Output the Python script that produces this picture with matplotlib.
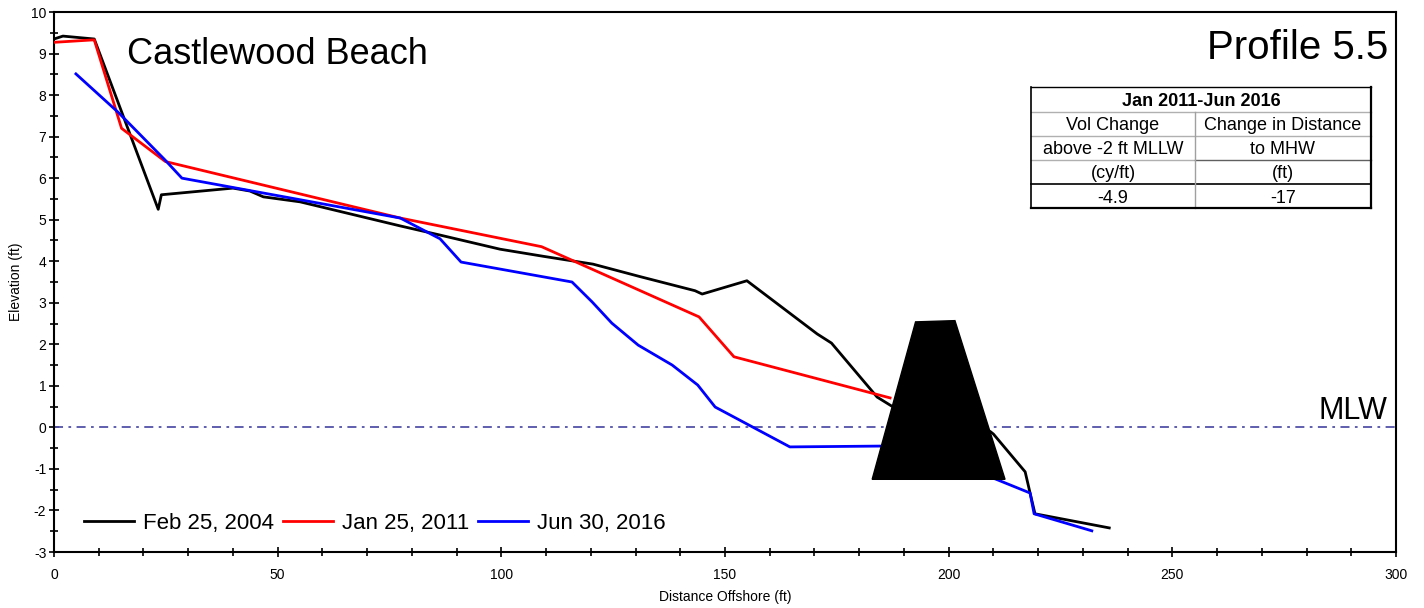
import matplotlib
matplotlib.use("Agg")
import matplotlib.pyplot as plt
from matplotlib.lines import Line2D
from matplotlib.ticker import MultipleLocator

plt.rcParams["font.family"] = ["Liberation Sans", "DejaVu Sans"]
plt.rcParams["axes.unicode_minus"] = False

# survey profiles: distance offshore (ft) vs elevation (ft)
feb2004_x = [0, 2, 9, 23.3, 24, 40, 43.8, 46.8, 55, 77.4, 86.3, 99.7, 109.3, 120.5,
             131, 143.3, 144.9, 154.9, 170.6, 173.8, 184, 187.3, 209.3, 210,
             217.1, 218.2, 219.3, 235.9]
feb2004_y = [9.35, 9.42, 9.35, 5.25, 5.6, 5.76, 5.69, 5.55, 5.43, 4.85, 4.63, 4.29,
             4.12, 3.93, 3.63, 3.29, 3.21, 3.53, 2.25, 2.03, 0.73, 0.51, -0.1, -0.16,
             -1.07, -1.58, -2.08, -2.42]

jan2011_x = [0, 9, 15.1, 24.9, 77.4, 109, 144.2, 152, 186.9]
jan2011_y = [9.27, 9.33, 7.2, 6.4, 5.04, 4.35, 2.66, 1.70, 0.71]

jun2016_x = [4.9, 14.3, 24.8, 28.6, 77.4, 86.3, 91, 115.8, 120.3, 124.7, 130.6,
             138.2, 143.9, 147.8, 164.5, 184.7, 210.4, 218.2, 219.1, 232]
jun2016_y = [8.51, 7.59, 6.44, 6.0, 5.04, 4.54, 3.98, 3.5, 3.02, 2.51, 1.98, 1.5,
             1.02, 0.49, -0.47, -0.45, -1.24, -1.58, -2.08, -2.49]

series_labels = ["Feb 25, 2004", "Jan 25, 2011", "Jun 30, 2016"]
series_colors = ["black", "red", "blue"]

# breakwater cross-section
structure_x = [182.9, 192.6, 201.4, 212.6]
structure_y = [-1.25, 2.54, 2.57, -1.25]

mlw_level = 0.0

table_header = "Jan 2011-Jun 2016"
table_rows = [["Vol Change", "Change in Distance"],
              ["above -2 ft MLLW", "to MHW"],
              ["(cy/ft)", "(ft)"],
              ["-4.9", "-17"]]

W, H = 1424, 608
fig = plt.figure(figsize=(W / 100, H / 100), dpi=100, facecolor="white")
ax = fig.add_axes([54 / W, 1 - 552 / H, (1396 - 54) / W, (552 - 12) / H])

for xs, ys, lab, col in zip([feb2004_x, jan2011_x, jun2016_x],
                            [feb2004_y, jan2011_y, jun2016_y],
                            series_labels, series_colors):
    ax.plot(xs, ys, color=col, lw=2.0, label=lab, zorder=3)

ax.fill(structure_x, structure_y, color="black", zorder=4)
ax.axhline(mlw_level, color="#5252a8", lw=1.3, ls=(0, (5, 3, 1.5, 3)), zorder=2)

ax.set_xlim(0, 300)
ax.set_ylim(-3, 10)
ax.xaxis.set_major_locator(MultipleLocator(50))
ax.xaxis.set_minor_locator(MultipleLocator(10))
ax.yaxis.set_major_locator(MultipleLocator(1))
ax.yaxis.set_minor_locator(MultipleLocator(0.5))
ax.tick_params(which="both", direction="inout", width=1.2, labelsize=10)
ax.tick_params(which="major", length=7)
ax.tick_params(which="minor", length=6)
ax.tick_params(axis="x", pad=8)
ax.tick_params(axis="y", pad=2)
for sp in ax.spines.values():
    sp.set_linewidth(1.5)

ax.set_xlabel("Distance Offshore (ft)", fontsize=10, labelpad=6)
ax.set_ylabel("Elevation (ft)", fontsize=10, labelpad=6)

ax.text((127 - 54) / 1342, 1 - (64 - 12) / 540, "Castlewood Beach",
        transform=ax.transAxes, fontsize=26, ha="left", va="baseline")
ax.text((1388 - 54) / 1342, 1 - (59 - 12) / 540, "Profile 5.5",
        transform=ax.transAxes, fontsize=29, ha="right", va="baseline")
ax.text(298, 0.2, "MLW", fontsize=22, ha="right", va="baseline")

ax.legend(loc="center left", bbox_to_anchor=((84 - 54) / 1342, (552 - 523) / 540),
          ncol=3, frameon=False, fontsize=16, handlelength=2.25, handletextpad=0.4,
          columnspacing=0.4, borderpad=0, borderaxespad=0)


# summary table drawn in pixel coordinates
def fx(x):
    return x / W


def fy(y):
    return 1 - y / H


def hline(y, x0, x1, color, lw):
    fig.add_artist(Line2D([fx(x0), fx(x1)], [fy(y), fy(y)], color=color, lw=lw,
                          transform=fig.transFigure, zorder=6))


def vline(x, y0, y1, color, lw):
    fig.add_artist(Line2D([fx(x), fx(x)], [fy(y0), fy(y1)], color=color, lw=lw,
                          transform=fig.transFigure, zorder=6))


t_left, t_right, t_mid = 1031, 1371, 1195
t_top, t_bot = 87, 208
row_edges = [87, 112, 136, 160, 184, 208]

fig.add_artist(plt.Rectangle((fx(t_left), fy(t_bot)), fx(t_right - t_left),
                             (t_bot - t_top) / H, facecolor="white", edgecolor="none",
                             transform=fig.transFigure, zorder=5))
hline(112, t_left, t_right, "#b0b0b0", 1.0)
hline(136, t_left, t_right, "#b0b0b0", 1.0)
hline(160, t_left, t_mid, "#b0b0b0", 1.0)
hline(160, t_mid, t_right, "#606060", 1.0)
hline(184, t_left, t_right, "black", 1.2)
vline(t_mid, 112, t_bot, "#a0a0a0", 1.0)
hline(t_top, t_left, t_right, "black", 1.0)
hline(t_bot, t_left, t_right, "black", 1.6)
vline(t_left, t_top, t_bot, "black", 1.2)
vline(t_right, t_top, t_bot, "black", 1.6)

fig.text(fx((t_left + t_right) / 2), fy((row_edges[0] + row_edges[1]) / 2), table_header,
         fontsize=13, fontweight="bold", ha="center", va="center_baseline", zorder=7)
for i, (left_txt, right_txt) in enumerate(table_rows):
    yc = (row_edges[i + 1] + row_edges[i + 2]) / 2
    fig.text(fx((t_left + t_mid) / 2), fy(yc), left_txt, fontsize=13,
             ha="center", va="center_baseline", zorder=7)
    fig.text(fx((t_mid + t_right) / 2), fy(yc), right_txt, fontsize=13,
             ha="center", va="center_baseline", zorder=7)

fig.savefig("out.png", dpi=100, facecolor="white")
